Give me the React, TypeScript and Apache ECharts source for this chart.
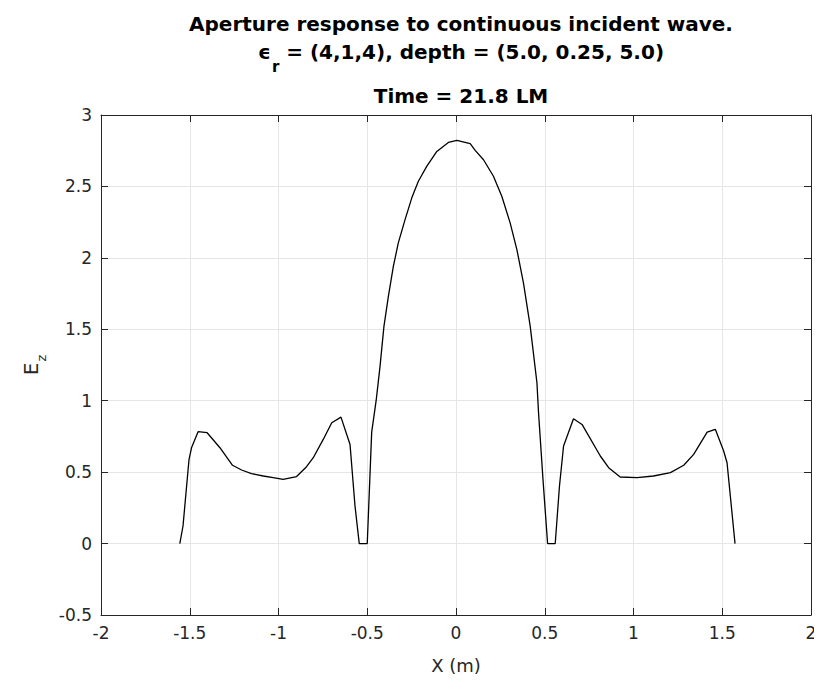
import React, { useEffect, useRef } from "react";
import * as echarts from "echarts";

const xValues: number[] = [
  -1.556, -1.538, -1.504, -1.49, -1.453, -1.402, -1.33, -1.259, -1.208, -1.152,
  -1.086, -1.03, -0.974, -0.898, -0.842, -0.804, -0.748, -0.7, -0.648, -0.597,
  -0.569, -0.545, -0.5, -0.475, -0.45, -0.428, -0.406, -0.381, -0.353, -0.325,
  -0.287, -0.249, -0.212, -0.165, -0.108, -0.043, 0.005, 0.08, 0.108, 0.155,
  0.211, 0.258, 0.305, 0.343, 0.38, 0.418, 0.456, 0.465, 0.49, 0.516,
  0.559, 0.583, 0.606, 0.662, 0.71, 0.813, 0.86, 0.925, 1.02, 1.113,
  1.208, 1.283, 1.339, 1.415, 1.461, 1.508, 1.527, 1.572,
];
const ezValues: number[] = [
  0, 0.123, 0.59, 0.67, 0.783, 0.776, 0.671, 0.548, 0.515, 0.49,
  0.473, 0.462, 0.45, 0.469, 0.538, 0.601, 0.729, 0.846, 0.885, 0.694,
  0.263, 0, 0, 0.78, 1.0, 1.24, 1.52, 1.73, 1.94, 2.105,
  2.268, 2.42, 2.536, 2.64, 2.745, 2.808, 2.822, 2.8, 2.752, 2.687,
  2.571, 2.431, 2.245, 2.058, 1.825, 1.522, 1.126, 0.916, 0.45, 0,
  0, 0.403, 0.683, 0.874, 0.834, 0.613, 0.531, 0.466, 0.462, 0.473,
  0.497, 0.548, 0.624, 0.78, 0.8, 0.648, 0.566, 0,
];
const titleLine1 = "Aperture response to continuous incident wave.";
const titleLine2Rest = " = (4,1,4), depth = (5.0, 0.25, 5.0)";
const titleLine3 = "Time = 21.8 LM";
const xName = "X (m)";

const FONT = "'DejaVu Sans', sans-serif";
const AX = "#262626";
const GRID = "#e6e6e6";

export default function App() {
  const ref = useRef<HTMLDivElement>(null);
  useEffect(() => {
    if (!ref.current) return;
    const chart = echarts.init(ref.current, undefined, { renderer: "svg" });
    const data = xValues.map((x, i) => [x, ezValues[i]]);
    const tick = () => ({
      show: true,
      inside: true,
      length: 7,
      lineStyle: { color: AX, width: 1 },
    });
    const line = () => ({ show: true, onZero: false, lineStyle: { color: AX, width: 1 } });
    const xBase = { type: "value", min: -2, max: 2, interval: 0.5 };
    const yBase = { type: "value", min: -0.5, max: 3, interval: 0.5 };
    const titleStyle = { fontFamily: FONT, fontSize: 20, fontWeight: "bold", color: "#000" };
    chart.setOption({
      animation: false,
      backgroundColor: "#ffffff",
      title: [
        { text: titleLine1, left: 456, top: 9, textAlign: "center", textStyle: titleStyle },
        {
          text: "{e|ϵ}{s|r}{n|" + titleLine2Rest + "}",
          left: 456,
          top: 37,
          textAlign: "center",
          textStyle: {
            rich: {
              e: { fontFamily: FONT, fontSize: 20, color: "#000", lineHeight: 20, verticalAlign: "top" },
              s: { fontFamily: FONT, fontSize: 15, fontWeight: "bold", color: "#000", lineHeight: 15, verticalAlign: "top", padding: [17, 0, 0, 1] },
              n: { ...titleStyle, lineHeight: 20, verticalAlign: "top" },
            },
          },
        },
        { text: titleLine3, left: 456, top: 81, textAlign: "center", textStyle: titleStyle },
      ],
      grid: { left: 101, right: 11, top: 115, bottom: 77, containLabel: false },
      xAxis: [
        {
          ...xBase,
          position: "bottom",
          z: 4,
          axisLine: line(),
          axisTick: tick(),
          splitLine: { show: false },
          axisLabel: { fontFamily: FONT, fontSize: 17, color: AX, margin: 9 },
          name: xName,
          nameLocation: "middle",
          nameGap: 41,
          nameTextStyle: { fontFamily: FONT, fontSize: 18, color: AX },
        },
        {
          ...xBase,
          position: "top",
          z: 4,
          axisLine: line(),
          axisTick: tick(),
          splitLine: { show: false },
          axisLabel: { show: false },
        },
        {
          ...xBase,
          position: "bottom",
          z: 0,
          axisLine: { show: false },
          axisTick: { show: false },
          axisLabel: { show: false },
          splitLine: { show: true, showMinLine: false, showMaxLine: false, lineStyle: { color: GRID, width: 1 } },
        },
      ],
      yAxis: [
        {
          ...yBase,
          position: "left",
          z: 4,
          axisLine: line(),
          axisTick: tick(),
          splitLine: { show: false },
          axisLabel: { fontFamily: FONT, fontSize: 17, color: AX, margin: 9 },
          name: "{a|E}{b|z}",
          nameLocation: "middle",
          nameGap: 58,
          nameRotate: 90,
          nameTextStyle: {
            rich: {
              a: { fontFamily: FONT, fontSize: 20, color: AX, lineHeight: 20, verticalAlign: "top" },
              b: { fontFamily: FONT, fontSize: 13, color: AX, lineHeight: 13, verticalAlign: "top", padding: [14, 0, 0, 1] },
            },
          },
        },
        {
          ...yBase,
          position: "right",
          z: 4,
          axisLine: line(),
          axisTick: tick(),
          splitLine: { show: false },
          axisLabel: { show: false },
        },
        {
          ...yBase,
          position: "left",
          z: 0,
          axisLine: { show: false },
          axisTick: { show: false },
          axisLabel: { show: false },
          splitLine: { show: true, showMinLine: false, showMaxLine: false, lineStyle: { color: GRID, width: 1 } },
        },
      ],
      series: [
        {
          type: "line",
          xAxisIndex: 0,
          yAxisIndex: 0,
          data,
          showSymbol: false,
          symbol: "none",
          lineStyle: { color: "#000", width: 1.3 },
          z: 2,
        },
      ],
    });
    return () => chart.dispose();
  }, []);
  return <div ref={ref} style={{ width: 822, height: 692, margin: -8 }} />;
}
